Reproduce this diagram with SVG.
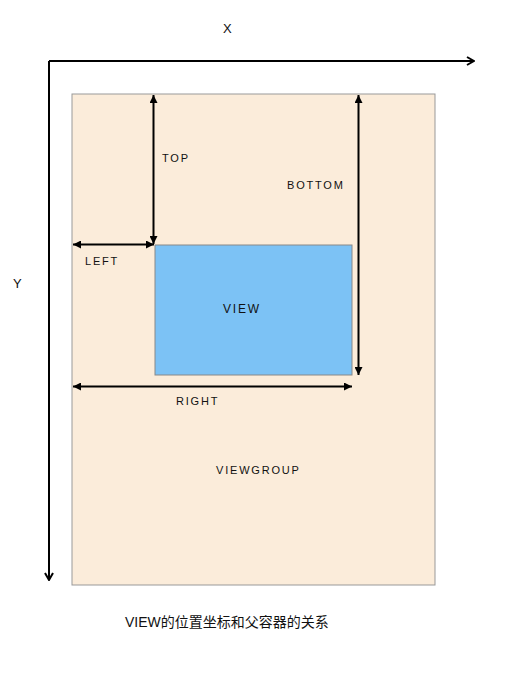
<svg xmlns="http://www.w3.org/2000/svg" width="512" height="683" viewBox="0 0 512 683">
<defs>
<marker id="open" viewBox="0 0 10 10" refX="9" refY="5" markerWidth="10" markerHeight="10" markerUnits="userSpaceOnUse" orient="auto">
<path d="M2,1 L9,5 L2,9" fill="none" stroke="#000" stroke-width="2"/>
</marker>
<marker id="tri" viewBox="0 0 10 10" refX="10" refY="5" markerWidth="8" markerHeight="8" markerUnits="userSpaceOnUse" orient="auto-start-reverse">
<path d="M0,0 L10,5 L0,10 Z" fill="#000"/>
</marker>
</defs>
<style>
.lbl{font-family:"Liberation Sans","Noto Sans CJK SC",sans-serif;font-size:11px;fill:#111;letter-spacing:1.8px}
.axis{stroke:#000;stroke-width:2;fill:none}
.dim{stroke:#000;stroke-width:2;fill:none}
</style>
<rect width="512" height="683" fill="#fff"/>
<g id="viewgroup">
<rect x="72" y="94" width="363" height="491" fill="#FBECDA" stroke="#999" stroke-width="1"/>
<text class="lbl" x="216" y="474">VIEWGROUP</text>
</g>
<g id="view">
<rect x="155" y="245" width="197" height="130" fill="#7CC2F5" stroke="#888" stroke-width="1"/>
<text class="lbl" x="223" y="313" style="font-size:12px">VIEW</text>
</g>
<g id="connectors">
<path class="axis" d="M49,61 H474" marker-end="url(#open)"/>
<path class="axis" d="M49,61 V580" marker-end="url(#open)"/>
<path class="dim" d="M153.5,95 V244" marker-start="url(#tri)" marker-end="url(#tri)"/>
<path class="dim" d="M358.5,95 V375" marker-start="url(#tri)" marker-end="url(#tri)"/>
<path class="dim" d="M73,244.5 H154" marker-start="url(#tri)" marker-end="url(#tri)"/>
<path class="dim" d="M73,386.5 H352" marker-start="url(#tri)" marker-end="url(#tri)"/>
</g>
<g id="labels">
<text class="lbl" x="223" y="33" style="font-size:13px;letter-spacing:0">X</text>
<text class="lbl" x="13" y="288" style="font-size:13px;letter-spacing:0">Y</text>
<text class="lbl" x="162" y="162">TOP</text>
<text class="lbl" x="287" y="189">BOTTOM</text>
<text class="lbl" x="85" y="265">LEFT</text>
<text class="lbl" x="176" y="405">RIGHT</text>
<text class="lbl" x="125" y="627" style="font-size:14px;letter-spacing:0">VIEW的位置坐标和父容器的关系</text>
</g>
</svg>
